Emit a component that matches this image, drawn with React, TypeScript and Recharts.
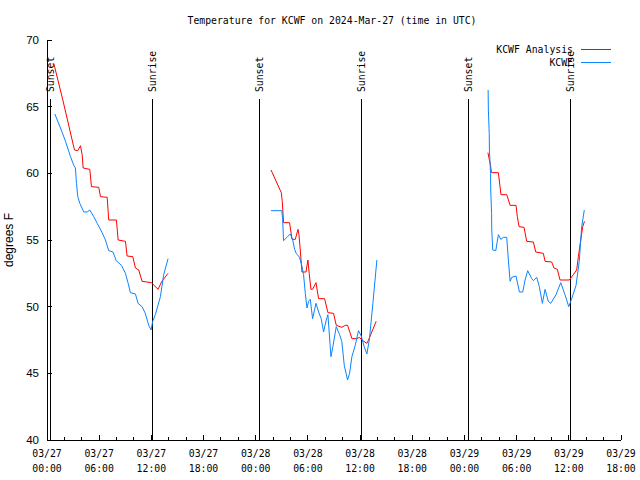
import React from 'react';
import { ComposedChart, Line, XAxis, YAxis, ReferenceLine } from 'recharts';

const TITLE = 'Temperature for KCWF on 2024-Mar-27 (time in UTC)';
const Y_LABEL = 'degrees F';
const SERIES_NAMES = ['KCWF Analysis', 'KCWF'];
const SERIES_COLORS = ['#ff0000', '#0a84ff'];

const X_TICKS = [0, 2, 4, 6, 8, 10, 12, 14, 16, 18, 20, 22, 24, 26, 28, 30, 32, 34, 36, 38, 40, 42, 44, 46, 48, 50, 52, 54, 56, 58, 60, 62, 64, 66];
const MAJOR_X_TICKS = [0, 6, 12, 18, 24, 30, 36, 42, 48, 54, 60, 66];
const DAY_LABELS = ['03/27', '03/28', '03/29'];
const HOUR_LABELS = ['00:00', '06:00', '12:00', '18:00'];
const Y_TICKS = [40, 45, 50, 55, 60, 65, 70];

const SUN_EVENT_HOURS = [0.37, 12.12, 24.41, 36.13, 48.42, 60.14];
const SUN_EVENT_LABELS = ['Sunset', 'Sunrise', 'Sunset', 'Sunrise', 'Sunset', 'Sunrise'];

// hours since 03/27 00:00 UTC; null temperature = gap between segments
const analysisHours = [
  0.78, 1.82, 3.16, 3.54, 3.85, 4.04, 4.16, 4.92, 5.11, 5.95, 6.15, 6.92, 7.1, 7.98, 8.18, 9.02, 9.21, 9.86, 10.17, 10.55, 10.93, 12.0, 12.77, 13.2, 13.92,
  19,
  25.76, 26.94, 27.05, 27.2, 27.89, 28.05, 28.17, 28.55, 28.86, 28.97, 29.12, 29.24, 29.32, 29.78, 30.0, 30.15, 30.35, 30.54, 30.93, 31.23, 31.92, 32.3, 32.95, 33.26, 33.9, 34.29, 34.56, 34.87, 35.06, 35.63, 35.93, 36.2, 36.78, 36.97, 37.85,
  44,
  50.7, 50.84, 51.0, 51.1, 51.9, 52.2, 52.86, 53.25, 53.93, 54.08, 54.28, 54.85, 55.16, 55.92, 56.2, 57.07, 57.27, 58.03, 58.3, 58.68, 58.99, 60.06, 60.52, 60.9, 61.1, 61.37, 61.6, 61.8,
];
const analysisTemps = [
  68.25, 65.5, 61.75, 61.7, 62.07, 61.4, 60.4, 60.3, 59.0, 58.95, 58.25, 58.2, 56.5, 56.5, 55.0, 54.9, 53.8, 53.75, 52.9, 52.75, 51.9, 51.8, 51.3, 51.9, 52.5,
  null,
  60.25, 58.55, 57.9, 56.3, 56.3, 55.6, 55.05, 55.05, 55.8, 55.4, 54.25, 53.25, 52.6, 52.6, 53.5, 52.5, 51.3, 51.3, 51.8, 50.6, 50.6, 49.55, 49.5, 48.6, 48.45, 48.6, 48.6, 48.0, 47.6, 47.6, 47.7, 47.5, 47.25, 47.5, 48.9,
  null,
  61.55, 61.1, 60.6, 60.05, 60.05, 58.4, 58.4, 57.6, 57.6, 56.75, 56.0, 55.95, 54.9, 54.85, 54.1, 54.0, 53.4, 53.35, 52.9, 52.8, 52.0, 52.0, 52.4, 52.75, 53.75, 55.0, 56.0, 56.4,
];

const observedHours = [
  0.9, 1.55, 2.13, 2.7, 3.08, 3.27, 3.39, 3.54, 3.77, 4.23, 4.62, 4.92, 5.38, 5.77, 6.34, 6.72, 7.1, 7.6, 7.95, 8.56, 9.02, 9.33, 9.59, 10.17, 10.47, 10.93, 11.3, 11.7, 11.97, 12.15, 12.46, 13.04, 13.42, 13.92,
  19,
  25.76, 27.0, 27.09, 27.2, 27.59, 27.97, 28.24, 28.47, 28.66, 29.04, 29.32, 29.5, 29.7, 29.89, 30.08, 30.27, 30.54, 30.93, 31.23, 31.53, 31.8, 32.11, 32.3, 32.65, 32.87, 33.26, 33.64, 33.9, 34.18, 34.56, 34.79, 35.06, 35.44, 35.82, 36.13, 36.47, 36.78, 37.08, 37.47, 37.93,
  44,
  50.72, 50.75, 50.85, 50.87, 51.0, 51.02, 51.12, 51.14, 51.25, 51.6, 51.9, 52.18, 52.48, 52.86, 53.05, 53.25, 53.44, 53.93, 54.32, 54.7, 54.97, 55.27, 55.74, 55.92, 56.31, 56.61, 56.96, 57.27, 57.64, 57.92, 58.53, 59.07, 59.56, 59.99, 60.33, 60.83, 61.2, 61.48, 61.78,
];
const observedTemps = [
  64.45, 63.4, 62.4, 61.25, 60.6, 60.4, 59.25, 58.25, 57.75, 57.1, 57.1, 57.25, 56.75, 56.25, 55.55, 55.0, 54.2, 54.1, 53.45, 53.1, 52.5, 51.75, 51.05, 50.95, 50.25, 50.0, 49.5, 48.6, 48.25, 48.9, 49.4, 50.75, 52.4, 53.6,
  null,
  57.2, 57.2, 56.6, 54.95, 55.2, 55.45, 55.05, 54.3, 54.0, 53.7, 53.0, 52.4, 51.0, 49.9, 50.4, 50.55, 49.1, 50.25, 49.6, 49.1, 48.1, 49.0, 49.4, 46.25, 47.0, 48.5, 47.9, 47.4, 45.6, 44.5, 45.0, 46.25, 47.1, 48.2, 47.8, 47.0, 46.45, 47.6, 50.25, 53.5,
  null,
  66.25, 64.75, 63.0, 61.75, 60.0, 58.75, 57.0, 55.75, 54.25, 54.2, 55.4, 55.05, 55.2, 55.2, 53.5, 51.9, 52.2, 52.3, 51.1, 51.1, 52.0, 52.7, 52.1, 51.95, 52.2, 51.5, 50.25, 51.3, 50.4, 50.25, 50.9, 51.8, 50.9, 50.0, 50.6, 51.6, 53.4, 56.0, 57.25,
];

const analysisData = analysisHours.map((h, i) => ({ h, v: analysisTemps[i] }));
const observedData = observedHours.map((h, i) => ({ h, v: observedTemps[i] }));

const MONO = '"DejaVu Sans Mono", "Liberation Mono", monospace';
const SANS = '"Liberation Sans", Arial, sans-serif';
const FS = 9.8;

const BottomTick = (props: any) => {
  const { x, y, payload } = props;
  const v: number = payload.value;
  const major = MAJOR_X_TICKS.includes(v);
  const day = DAY_LABELS[Math.floor(v / 24) % DAY_LABELS.length];
  const hr = HOUR_LABELS[(v % 24) / 6];
  return (
    <g>
      <line x1={x} x2={x} y1={y} y2={y - (major ? 5 : 3)} stroke="#000" shapeRendering="crispEdges" />
      {major && (
        <text x={x} y={y + 17} textAnchor="middle" fontFamily={MONO} fontSize={FS} fill="#000">{day}</text>
      )}
      {major && (
        <text x={x} y={y + 32} textAnchor="middle" fontFamily={MONO} fontSize={FS} fill="#000">{hr}</text>
      )}
    </g>
  );
};

const TopTick = (props: any) => {
  const { x, y, payload } = props;
  const major = MAJOR_X_TICKS.includes(payload.value);
  return <line x1={x} x2={x} y1={y} y2={y + (major ? 5 : 3)} stroke="#000" shapeRendering="crispEdges" />;
};

const LeftTick = (props: any) => {
  const { x, y, payload } = props;
  return (
    <g>
      <line x1={x} x2={x + 5} y1={y} y2={y} stroke="#000" shapeRendering="crispEdges" />
      <text x={x - 8} y={y + 4} textAnchor="end" fontFamily={SANS} fontSize={11.5} fill="#000">{payload.value}</text>
    </g>
  );
};

const RightTick = (props: any) => {
  const { x, y } = props;
  return <line x1={x} x2={x - 5} y1={y} y2={y} stroke="#000" shapeRendering="crispEdges" />;
};

const sunLabel = (text: string) => (p: any) => {
  const vb = p.viewBox || {};
  const lx = vb.x + 4;
  const ly = vb.y - 7;
  return (
    <text x={lx} y={ly} transform={`rotate(-90 ${lx} ${ly})`} textAnchor="start" fontFamily={MONO} fontSize={FS} fill="#000">
      {text}
    </text>
  );
};

export default function App() {
  return (
    <div style={{ position: 'absolute', left: 0, top: 0, width: 640, height: 480, background: '#fff' }}>
      <ComposedChart width={640} height={480} margin={{ top: 40, right: 19, bottom: 0, left: 0 }}>
        <XAxis
          xAxisId={0}
          dataKey="h"
          type="number"
          domain={[0, 66]}
          ticks={X_TICKS}
          interval={0}
          allowDataOverflow
          height={40}
          tickSize={0}
          tickMargin={0}
          tickLine={false}
          axisLine={{ stroke: '#000', shapeRendering: 'crispEdges' }}
          tick={(p: any) => <BottomTick {...p} />}
        />
        <XAxis
          xAxisId="top"
          orientation="top"
          type="number"
          domain={[0, 66]}
          ticks={X_TICKS}
          interval={0}
          allowDataOverflow
          height={0}
          tickSize={0}
          tickMargin={0}
          tickLine={false}
          axisLine={{ stroke: '#000', shapeRendering: 'crispEdges' }}
          tick={(p: any) => <TopTick {...p} />}
        />
        <YAxis
          yAxisId={0}
          type="number"
          domain={[40, 70]}
          ticks={Y_TICKS}
          interval={0}
          allowDataOverflow
          width={47}
          tickSize={0}
          tickMargin={0}
          tickLine={false}
          axisLine={{ stroke: '#000', shapeRendering: 'crispEdges' }}
          tick={(p: any) => <LeftTick {...p} />}
        />
        <YAxis
          yAxisId="right"
          orientation="right"
          type="number"
          domain={[40, 70]}
          ticks={Y_TICKS}
          interval={0}
          allowDataOverflow
          width={0}
          tickSize={0}
          tickMargin={0}
          tickLine={false}
          axisLine={{ stroke: '#000', shapeRendering: 'crispEdges' }}
          tick={(p: any) => <RightTick {...p} />}
        />
        {SUN_EVENT_HOURS.map((h, i) => (
          <ReferenceLine
            key={i}
            xAxisId={0}
            yAxisId={0}
            segment={[{ x: h, y: 40 }, { x: h, y: 65.57 }]}
            stroke="#000"
            strokeWidth={1}
            shapeRendering="crispEdges"
            ifOverflow="visible"
            label={sunLabel(SUN_EVENT_LABELS[i])}
          />
        ))}
        <Line
          data={analysisData}
          dataKey="v"
          name={SERIES_NAMES[0]}
          type="linear"
          stroke={SERIES_COLORS[0]}
          strokeWidth={1}
          dot={false}
          activeDot={false}
          connectNulls={false}
          isAnimationActive={false}
        />
        <Line
          data={observedData}
          dataKey="v"
          name={SERIES_NAMES[1]}
          type="linear"
          stroke={SERIES_COLORS[1]}
          strokeWidth={1}
          dot={false}
          activeDot={false}
          connectNulls={false}
          isAnimationActive={false}
        />
      </ComposedChart>
      <svg width={640} height={480} style={{ position: 'absolute', left: 0, top: 0, pointerEvents: 'none' }}>
        <text x={332} y={24} textAnchor="middle" fontFamily={MONO} fontSize={FS} fill="#000">{TITLE}</text>
        <text x={13} y={240} transform="rotate(-90 13 240)" textAnchor="middle" fontFamily={SANS} fontSize={12} fill="#000">{Y_LABEL}</text>
        <text x={573} y={53} textAnchor="end" fontFamily={MONO} fontSize={FS} fill="#000">{SERIES_NAMES[0]}</text>
        <line x1={581} x2={611} y1={49.5} y2={49.5} stroke={SERIES_COLORS[0]} strokeWidth={1} shapeRendering="crispEdges" />
        <text x={573} y={66} textAnchor="end" fontFamily={MONO} fontSize={FS} fill="#000">{SERIES_NAMES[1]}</text>
        <line x1={581} x2={611} y1={62.5} y2={62.5} stroke={SERIES_COLORS[1]} strokeWidth={1} shapeRendering="crispEdges" />
      </svg>
    </div>
  );
}
